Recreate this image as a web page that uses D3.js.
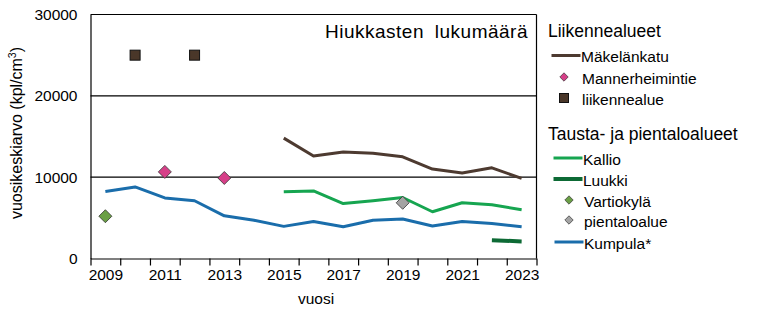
<!DOCTYPE html>
<html>
<head>
<meta charset="utf-8">
<script src="https://cdn.jsdelivr.net/npm/d3@7"></script>
<style>
  html, body { margin: 0; padding: 0; background: #fff; }
  svg { display: block; font-family: "Liberation Sans", Arial, sans-serif; }
</style>
</head>
<body>
<svg id="chart" width="763" height="323"></svg>
<script>
// Years on the category axis
const years = [2009, 2010, 2011, 2012, 2013, 2014, 2015, 2016, 2017, 2018, 2019, 2020, 2021, 2022, 2023];
const yearLabels = [2009, 2011, 2013, 2015, 2017, 2019, 2021, 2023];
const yTicks = [0, 10000, 20000, 30000];

// Annual means, particles per cm3
const makelankatuYears = [2015, 2016, 2017, 2018, 2019, 2020, 2021, 2022, 2023];
const makelankatu = [14800, 12600, 13100, 12950, 12500, 11000, 10500, 11150, 9850];

const mannerheimintieYears = [2011, 2013];
const mannerheimintie = [10650, 9900];

const liikennealueYears = [2010, 2012];
const liikennealue = [25000, 25000];

const kallioYears = [2015, 2016, 2017, 2018, 2019, 2020, 2021, 2022, 2023];
const kallio = [8200, 8300, 6750, 7100, 7500, 5750, 6850, 6600, 6000];

const luukkiYears = [2022, 2023];
const luukki = [2250, 2100];

const vartiokylaYears = [2009];
const vartiokyla = [5200];

const pientaloalueYears = [2019];
const pientaloalue = [6850];

const kumpula = [8250, 8800, 7450, 7100, 5250, 4700, 3950, 4550, 3900, 4700, 4850, 4000, 4550, 4300, 3900];

const zip = (xs, ys) => xs.map((x, i) => ({ year: x, value: ys[i] }));

const svg = d3.select("#chart");
const plotLeft = 90.5, plotRight = 536.5, plotTop = 14.5, plotBottom = 258.5;

const x = d3.scaleLinear().domain([2008.5, 2023.5]).range([plotLeft, plotRight]);
const y = d3.scaleLinear().domain([0, 30000]).range([plotBottom, plotTop]);

// Horizontal gridlines
svg.append("g").selectAll("line")
  .data(yTicks.filter(d => d > 0))
  .join("line")
  .attr("x1", plotLeft).attr("x2", plotRight)
  .attr("y1", d => y(d)).attr("y2", d => y(d))
  .attr("stroke", "#000").attr("stroke-width", 1.2);

// Right frame edge
svg.append("line")
  .attr("x1", plotRight).attr("x2", plotRight).attr("y1", plotTop).attr("y2", plotBottom)
  .attr("stroke", "#000").attr("stroke-width", 1.2);

// Y axis
const yAxis = svg.append("g")
  .attr("transform", `translate(${plotLeft},0)`)
  .call(d3.axisLeft(y).tickValues(yTicks).tickFormat(d3.format("d")).tickSize(0).tickPadding(13));
yAxis.select(".domain").attr("stroke", "#000").attr("stroke-width", 1.2);
yAxis.selectAll("text").attr("font-size", 15.5).attr("fill", "#000")
  .attr("font-family", "Liberation Sans, Arial, sans-serif");

// X axis: tick marks between categories
const xAxis = svg.append("g")
  .attr("transform", `translate(0,${plotBottom})`)
  .call(d3.axisBottom(x).tickValues(d3.range(2008.5, 2024, 1)).tickFormat("").tickSize(7).tickSizeOuter(0));
xAxis.select(".domain").attr("stroke", "#000").attr("stroke-width", 1.2);
xAxis.selectAll(".tick line").attr("stroke", "#000").attr("stroke-width", 1.2);

// X labels at category centres
const xLab = svg.append("g")
  .attr("transform", `translate(0,${plotBottom})`)
  .call(d3.axisBottom(x).tickValues(yearLabels).tickFormat(d3.format("d")).tickSize(0).tickPadding(10));
xLab.select(".domain").remove();
xLab.selectAll("text").attr("font-size", 15.5).attr("fill", "#000")
  .attr("font-family", "Liberation Sans, Arial, sans-serif");

// Axis titles
svg.append("text")
  .attr("transform", "translate(22,133) rotate(-90)")
  .attr("text-anchor", "middle")
  .attr("font-size", 16)
  .html('vuosikeskiarvo (kpl/cm<tspan baseline-shift="super" font-size="10.5">3</tspan>)');

svg.append("text")
  .attr("x", 316).attr("y", 304)
  .attr("text-anchor", "middle")
  .attr("font-size", 15.5)
  .text("vuosi");

// Chart title
svg.append("text")
  .attr("x", 528).attr("y", 38)
  .attr("text-anchor", "end")
  .attr("font-size", 19)
  .attr("letter-spacing", 0.5)
  .attr("word-spacing", 5)
  .text("Hiukkasten lukumäärä");

const line = d3.line().x(d => x(d.year)).y(d => y(d.value));

function drawLine(data, color, width) {
  svg.append("path")
    .datum(data)
    .attr("fill", "none")
    .attr("stroke", color)
    .attr("stroke-width", width)
    .attr("stroke-linejoin", "round")
    .attr("d", line);
}

const diamond = s => `M0,${-s} L${s},0 L0,${s} L${-s},0 Z`;

function drawDiamonds(data, color, s) {
  svg.append("g").selectAll("path")
    .data(data)
    .join("path")
    .attr("transform", d => `translate(${x(d.year)},${y(d.value)})`)
    .attr("d", diamond(s))
    .attr("fill", color)
    .attr("stroke", "#333")
    .attr("stroke-width", 0.8);
}

function drawSquares(data, color, s) {
  svg.append("g").selectAll("rect")
    .data(data)
    .join("rect")
    .attr("x", d => x(d.year) - s).attr("y", d => y(d.value) - s)
    .attr("width", 2 * s).attr("height", 2 * s)
    .attr("fill", color)
    .attr("stroke", "#111")
    .attr("stroke-width", 1);
}

const C = {
  makelankatu: "#4d3a30",
  mannerheimintie: "#d63f88",
  liikennealue: "#4a3729",
  kallio: "#16a550",
  luukki: "#0d6a35",
  vartiokyla: "#6a9f45",
  pientaloalue: "#a3a3a3",
  kumpula: "#1a6dab"
};

drawLine(zip(years, kumpula), C.kumpula, 3);
drawLine(zip(kallioYears, kallio), C.kallio, 3);
drawLine(zip(luukkiYears, luukki), C.luukki, 4);
drawLine(zip(makelankatuYears, makelankatu), C.makelankatu, 3);
drawDiamonds(zip(vartiokylaYears, vartiokyla), C.vartiokyla, 6.5);
drawDiamonds(zip(pientaloalueYears, pientaloalue), C.pientaloalue, 6.5);
drawDiamonds(zip(mannerheimintieYears, mannerheimintie), C.mannerheimintie, 6.5);
drawSquares(zip(liikennealueYears, liikennealue), C.liikennealue, 5);

// Legend
const lg = svg.append("g");
function heading(text, yy) {
  lg.append("text").attr("x", 548).attr("y", yy).attr("font-size", 17.5).text(text);
}
function label(text, xx, yy) {
  lg.append("text").attr("x", xx).attr("y", yy).attr("font-size", 15.5).attr("dominant-baseline", "central").text(text);
}
function lineItem(text, yy, color, width, x1) {
  lg.append("line").attr("x1", x1).attr("x2", x1 + 29).attr("y1", yy).attr("y2", yy)
    .attr("stroke", color).attr("stroke-width", width);
  label(text, x1 + 29.5, yy + 1);
}
function diamondItem(text, yy, color, cx, tx) {
  lg.append("path").attr("transform", `translate(${cx},${yy})`).attr("d", diamond(4.2))
    .attr("fill", color).attr("stroke", "#333").attr("stroke-width", 0.7);
  label(text, tx, yy + 1);
}

heading("Liikennealueet", 37);
lineItem("Mäkelänkatu", 55.5, C.makelankatu, 3, 551.5);
diamondItem("Mannerheimintie", 77, C.mannerheimintie, 564, 582);
lg.append("rect").attr("x", 559.5).attr("y", 93.5).attr("width", 9).attr("height", 9)
  .attr("fill", C.liikennealue).attr("stroke", "#111").attr("stroke-width", 1);
label("liikennealue", 582, 99);

heading("Tausta- ja pientaloalueet", 140);
lineItem("Kallio", 158, C.kallio, 3, 553.5);
lineItem("Luukki", 179, C.luukki, 4, 553.5);
diamondItem("Vartiokylä", 200, C.vartiokyla, 569, 584);
diamondItem("pientaloalue", 220, C.pientaloalue, 569, 584);
lineItem("Kumpula*", 242, C.kumpula, 3, 554.5);
</script>
</body>
</html>
